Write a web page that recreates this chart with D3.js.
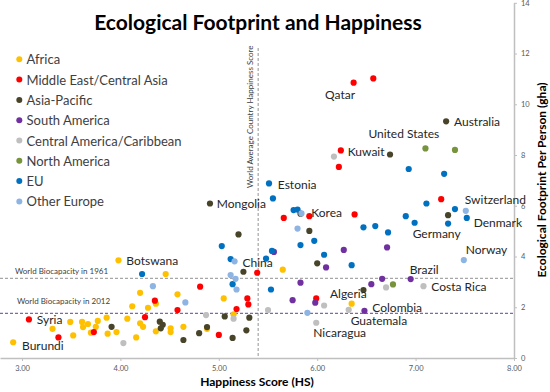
<!DOCTYPE html>
<html>
<head>
<meta charset="utf-8">
<script src="https://cdn.jsdelivr.net/npm/d3@7"></script>
<style>
  html, body { margin: 0; padding: 0; background: #fff; }
  svg { display: block; font-family: Lato, "Open Sans", sans-serif; }
</style>
</head>
<body>
<svg id="chart" width="550" height="392"></svg>
<script>
// ---------- DATA ----------
const seriesNames = ["Africa", "Middle East/Central Asia", "Asia-Pacific", "South America",
  "Central America/Caribbean", "North America", "EU", "Other Europe"];
const seriesColors = ["#FFC000", "#FF0000", "#48442A", "#7030A0", "#BFBFBF", "#77933C", "#0070C0", "#8DB4E2"];

// [Happiness Score, Ecological Footprint (gha)]
const africa = [[3.98,3.85],[4.46,3.31],[4.20,2.57],[4.58,2.51],[4.36,2.14],[5.05,2.35],[4.12,2.04],
  [4.28,1.98],[5.15,1.72],[3.86,1.59],[4.07,1.55],[4.20,1.37],[4.23,1.23],[4.51,1.17],[4.51,1.02],
  [4.64,1.23],[4.36,1.05],[3.96,1.02],[3.87,0.96],[4.16,0.81],[4.88,1.15],[3.49,1.42],[3.31,1.15],
  [3.61,1.42],[3.67,1.34],[3.62,1.22],[3.77,1.46],[3.75,1.23],[3.70,1.00],[3.52,0.89],[2.91,0.62],
  [5.65,3.48],[6.35,2.14]];
const middleEast = [[6.37,10.85],[6.57,11.02],[6.24,8.18],[6.22,7.53],[7.26,6.26],[5.66,5.52],[5.92,5.59],
  [6.38,5.66],[5.39,3.36],[4.81,2.81],[4.35,2.26],[5.29,2.35],[5.30,2.11],[4.58,1.89],[5.18,1.93],
  [4.25,1.61],[3.07,1.52],[3.73,1.02],[3.37,0.81],[5.00,0.91],[5.99,2.35]];
const asiaPacific = [[7.31,9.33],[6.74,8.02],[7.33,5.63],[5.83,5.69],[5.92,5.01],[6.00,3.73],[6.47,2.68],
  [4.91,6.09],[5.20,4.87],[5.25,3.40],[5.06,1.64],[5.31,1.59],[4.40,1.43],[4.43,1.31],[4.41,1.17],
  [3.91,1.23],[4.64,0.71],[4.80,0.98],[4.88,1.22],[5.14,0.79],[5.28,1.09]];
const southAmerica = [[6.27,4.26],[6.71,4.36],[6.09,3.57],[5.83,2.97],[6.55,2.91],[6.66,3.12],[6.95,3.11],
  [5.75,2.28],[5.98,2.18],[6.48,1.86],[5.56,4.18]];
const centralAmerica = [[6.17,7.94],[6.70,2.78],[7.08,2.83],[6.07,2.07],[6.32,1.90],[5.99,1.39],[5.50,1.89],
  [4.87,1.69],[5.15,1.55],[4.03,0.59]];
const northAmerica = [[7.10,8.26],[7.40,8.20],[6.77,2.90]];
const eu = [[5.51,6.88],[5.55,6.29],[5.76,5.83],[5.80,5.85],[6.90,5.59],[7.11,6.09],[7.40,5.87],[7.52,5.52],
  [6.99,5.33],[7.33,5.30],[6.47,5.15],[6.59,5.20],[6.72,4.95],[5.97,4.62],[5.83,4.45],[6.07,4.07],
  [6.35,3.66],[5.03,4.41],[5.12,3.90],[5.48,3.92],[4.22,3.31],[5.14,2.91],[5.53,2.70],[5.54,4.22],
  [6.93,7.45],[7.29,7.26]];
const otherEurope = [[5.84,5.70],[5.80,5.10],[7.51,5.80],[7.49,3.86],[5.16,3.81],[5.12,3.27],[5.17,3.12],
  [5.18,2.70],[4.33,2.83],[4.66,2.19],[5.90,1.78]];
const seriesData = [africa, middleEast, asiaPacific, southAmerica, centralAmerica, northAmerica, eu, otherEurope];

// country labels: [text, HS at label start, EF at label middle]
const countryLabels = [
  ["Qatar", 6.08, 10.40], ["Australia", 7.39, 9.33], ["United States", 6.52, 8.86], ["Kuwait", 6.31, 8.15],
  ["Estonia", 5.60, 6.85], ["Mongolia", 4.98, 6.10], ["Korea", 5.94, 5.75], ["Switzerland", 7.50, 6.26],
  ["Denmark", 7.59, 5.35], ["Germany", 6.97, 4.91], ["Norway", 7.51, 4.28], ["Botswana", 4.06, 3.85],
  ["China", 5.24, 3.76], ["Brazil", 6.94, 3.49], ["Costa Rica", 7.16, 2.83], ["Algeria", 6.13, 2.55],
  ["Colombia", 6.56, 2.01], ["Guatemala", 6.34, 1.47], ["Nicaragua", 5.96, 1.02], ["Syria", 3.15, 1.50],
  ["Burundi", 3.00, 0.51]
];

const xTicks = [3, 4, 5, 6, 7, 8];
const yTicks = [0, 2, 4, 6, 8, 10, 12, 14];
const worldAvgHS = 5.4;
const biocap1961 = 3.14;
const biocap2012 = 1.76;

// ---------- CHART ----------
const svg = d3.select("#chart");
const x = d3.scaleLinear().domain([2.776, 8]).range([0, 514]);
const y = d3.scaleLinear().domain([0, 14]).range([358, 2.8]);

// x axis
const xAxis = svg.append("g").attr("transform", `translate(0,${y(0)})`)
  .call(d3.axisBottom(x).tickValues(xTicks).tickFormat(d3.format(".2f")).tickSize(3).tickSizeOuter(0).tickPadding(5));
xAxis.select(".domain").attr("stroke", "#BFBFBF").attr("stroke-width", 1.5);
xAxis.selectAll(".tick line").attr("stroke", "#BFBFBF");
xAxis.selectAll(".tick text").attr("fill", "#595959").attr("font-size", 7.5).attr("font-family", "Lato");

// y axis on right
const yAxis = svg.append("g").attr("transform", `translate(${x(8)},0)`)
  .call(d3.axisRight(y).tickValues(yTicks).tickSize(3).tickSizeOuter(0).tickPadding(4));
yAxis.select(".domain").attr("stroke", "#BFBFBF").attr("stroke-width", 1.5);
yAxis.selectAll(".tick line").attr("stroke", "#BFBFBF");
yAxis.selectAll(".tick text").attr("fill", "#595959").attr("font-size", 7.5).attr("font-family", "Lato");

// reference lines
svg.append("line").attr("x1", x(worldAvgHS)).attr("x2", x(worldAvgHS))
  .attr("y1", 48).attr("y2", y(0))
  .attr("stroke", "#A6A6A6").attr("stroke-width", 1.2).attr("stroke-dasharray", "3,2");
svg.append("line").attr("x1", x(2.776)).attr("x2", x(8)).attr("y1", y(biocap1961)).attr("y2", y(biocap1961))
  .attr("stroke", "#A6A6A6").attr("stroke-width", 1.2).attr("stroke-dasharray", "3,2");
svg.append("line").attr("x1", x(2.776)).attr("x2", x(8)).attr("y1", y(biocap2012)).attr("y2", y(biocap2012))
  .attr("stroke", "#7F65B5").attr("stroke-width", 1.2).attr("stroke-dasharray", "3,2");

svg.append("text").attr("transform", `translate(${x(worldAvgHS) - 8},188) rotate(-90)`)
  .attr("font-size", 8).attr("fill", "#404040").attr("dominant-baseline", "central")
  .text("World Average Country Happiness Score");
svg.append("text").attr("x", 15).attr("y", y(biocap1961) - 7.5)
  .attr("font-size", 8).attr("fill", "#404040").attr("dominant-baseline", "central")
  .text("World Biocapacity in 1961");
svg.append("text").attr("x", 17).attr("y", y(biocap2012) - 12.5)
  .attr("font-size", 8).attr("fill", "#404040").attr("dominant-baseline", "central")
  .text("World Biocapacity in 2012");

// points
seriesData.forEach((pts, i) => {
  svg.append("g").selectAll("circle").data(pts).join("circle")
    .attr("cx", d => x(d[0])).attr("cy", d => y(d[1])).attr("r", 3.1)
    .attr("fill", seriesColors[i]);
});

// country labels
svg.append("g").selectAll("text").data(countryLabels).join("text")
  .attr("x", d => x(d[1])).attr("y", d => y(d[2]))
  .attr("dominant-baseline", "central")
  .attr("font-size", 12).attr("fill", "#262626")
  .text(d => d[0]);

// legend
const leg = svg.append("g").selectAll("g").data(seriesNames).join("g")
  .attr("transform", (d, i) => `translate(0,${59.3 + i * 20.3})`);
leg.append("circle").attr("cx", 19.3).attr("cy", 0).attr("r", 3).attr("fill", (d, i) => seriesColors[i]);
leg.append("text").attr("x", 26.5).attr("y", 0).attr("dominant-baseline", "central")
  .attr("font-size", 13).attr("fill", "#404040").text(d => d);

// titles
svg.append("text").attr("x", 258).attr("y", 30).attr("text-anchor", "middle")
  .attr("font-size", 21).attr("font-weight", "bold").attr("fill", "#000")
  .text("Ecological Footprint and Happiness");
svg.append("text").attr("x", 257).attr("y", 386).attr("text-anchor", "middle")
  .attr("font-size", 12).attr("font-weight", "bold").attr("fill", "#000")
  .text("Happiness Score (HS)");
svg.append("text").attr("transform", `translate(541,180) rotate(-90)`).attr("text-anchor", "middle")
  .attr("dominant-baseline", "central")
  .attr("font-size", 12).attr("font-weight", "bold").attr("fill", "#000")
  .text("Ecological Footprint Per Person (gha)");
</script>
</body>
</html>
